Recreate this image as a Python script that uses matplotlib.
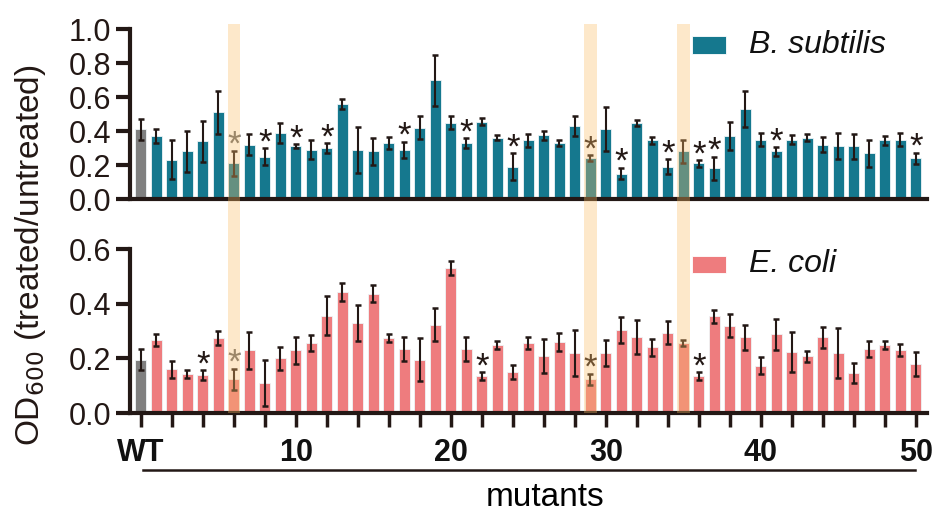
import numpy as np
import matplotlib.pyplot as plt
import matplotlib.transforms as mtransforms
from matplotlib.patches import Rectangle

plt.rcParams['font.family'] = ['Liberation Sans', 'DejaVu Sans']

# position 0 = WT, 1..50 = mutants
positions = np.arange(51)

bs_mean = [0.41, 0.37, 0.23, 0.28, 0.34, 0.51, 0.21, 0.32, 0.25, 0.39,
           0.31, 0.29, 0.30, 0.56, 0.29, 0.28, 0.33, 0.29, 0.42, 0.70,
           0.45, 0.33, 0.455, 0.36, 0.19, 0.345, 0.375, 0.33, 0.43, 0.24,
           0.41, 0.15, 0.45, 0.345, 0.19, 0.28, 0.21, 0.18, 0.37, 0.53,
           0.35, 0.28, 0.35, 0.36, 0.32, 0.31, 0.31, 0.27, 0.345, 0.35,
           0.24]
bs_err = [0.06, 0.04, 0.115, 0.12, 0.12, 0.125, 0.075, 0.06, 0.05, 0.06,
          0.012, 0.057, 0.03, 0.03, 0.135, 0.077, 0.033, 0.048, 0.067, 0.15,
          0.036, 0.027, 0.02, 0.014, 0.08, 0.04, 0.026, 0.02, 0.06, 0.018,
          0.13, 0.033, 0.018, 0.022, 0.044, 0.07, 0.02, 0.07, 0.083, 0.105,
          0.037, 0.026, 0.027, 0.02, 0.044, 0.077, 0.075, 0.08, 0.026, 0.04,
          0.033]
bs_stars = [6, 8, 10, 12, 17, 21, 24, 29, 31, 34, 36, 37, 41, 50]

ec_mean = [0.196, 0.267, 0.16, 0.143, 0.14, 0.275, 0.124, 0.23, 0.11, 0.20,
           0.23, 0.257, 0.356, 0.444, 0.33, 0.437, 0.274, 0.234, 0.196, 0.324,
           0.53, 0.234, 0.135, 0.25, 0.15, 0.257, 0.208, 0.26, 0.22, 0.124,
           0.22, 0.304, 0.28, 0.241, 0.294, 0.257, 0.135, 0.354, 0.32, 0.277,
           0.174, 0.288, 0.223, 0.208, 0.277, 0.22, 0.147, 0.234, 0.25, 0.23,
           0.179]
ec_err = [0.04, 0.022, 0.03, 0.016, 0.017, 0.027, 0.039, 0.067, 0.083, 0.042,
          0.049, 0.03, 0.072, 0.033, 0.067, 0.03, 0.015, 0.043, 0.077, 0.06,
          0.025, 0.043, 0.015, 0.015, 0.026, 0.021, 0.063, 0.032, 0.083, 0.02,
          0.048, 0.046, 0.062, 0.031, 0.043, 0.01, 0.015, 0.023, 0.043, 0.047,
          0.032, 0.056, 0.073, 0.02, 0.037, 0.092, 0.037, 0.03, 0.015, 0.022,
          0.043]
ec_stars = [4, 6, 22, 29, 36]

highlight = [6, 29, 35]
gray_star = [6]
xtick_pos = [0, 10, 20, 30, 40, 50]
xtick_labels = ['WT', '10', '20', '30', '40', '50']

teal = '#15788e'
pink = '#ee7c7e'
gray = '#808080'
band = '#fbbe68'
ink = '#231815'

fig = plt.figure(figsize=(9.45, 5.21), dpi=100)
ax1 = fig.add_axes([0.1376, 0.618, 0.843, 0.326])
ax2 = fig.add_axes([0.1376, 0.207, 0.843, 0.315])


def draw_panel(ax, means, errs, stars, color, ymax, label):
    colors = [gray] + [color] * (len(means) - 1)
    ax.bar(positions, means, width=0.7, color=colors, edgecolor='#eef4f6',
           linewidth=0.6, zorder=2)
    ax.errorbar(positions, means, yerr=errs, fmt='none', ecolor=ink,
                elinewidth=1.5, capsize=2.5, capthick=1.8, zorder=3)
    for s in stars:
        c = '#6a6a6a' if s in gray_star else ink
        ax.annotate('*', (s, means[s] + errs[s]), xytext=(0, -3),
                    textcoords='offset points', ha='center', va='baseline',
                    fontsize=25, color=c, zorder=4)
    ax.set_xlim(-0.7, 50.7)
    ax.set_ylim(0, ymax)
    for sp in ['top', 'right']:
        ax.spines[sp].set_visible(False)
    for sp in ['left', 'bottom']:
        ax.spines[sp].set_linewidth(3)
        ax.spines[sp].set_color(ink)
    ax.tick_params(axis='y', width=3, length=10, labelsize=22,
                   color=ink, labelcolor=ink)
    ax.set_yticks(np.round(np.arange(0, ymax + 0.01, 0.2), 1))
    ax.set_yticklabels([f'{v:.1f}' for v in np.arange(0, ymax + 0.01, 0.2)])
    ax.add_patch(Rectangle((0.706, 0.855), 0.042, 0.105,
                           transform=ax.transAxes, facecolor=color,
                           edgecolor='white', lw=0.6, clip_on=False))
    ax.text(0.777, 0.908, label, transform=ax.transAxes, fontsize=23,
            style='italic', va='center', ha='left', color='#111111')


draw_panel(ax1, bs_mean, bs_err, bs_stars, teal, 1.0, 'B. subtilis')
draw_panel(ax2, ec_mean, ec_err, ec_stars, pink, 0.6, 'E. coli')

ax1.set_xticks([])
ax2.set_xticks(np.arange(0, 51, 2))
ax2.set_xticklabels(['' for _ in range(26)])
ax2.tick_params(axis='x', width=2.5, length=10, color=ink)
for p, lab in zip(xtick_pos, xtick_labels):
    ax2.annotate(lab, (p, 0), xytext=(0, -18), textcoords='offset points',
                 ha='center', va='top', fontsize=22, fontweight='bold',
                 color='#111111')

# highlight bands spanning both panels
trans = mtransforms.blended_transform_factory(ax2.transData, fig.transFigure)
for h in highlight:
    fig.add_artist(Rectangle((h - 0.41, 0.207), 0.82, 0.747, transform=trans,
                             facecolor=band, alpha=0.35, edgecolor='none',
                             zorder=5))

# underline for mutants and axis labels
fig.add_artist(plt.Line2D([0.151, 0.968], [0.098, 0.098], color=ink,
                          lw=1.8))
fig.text(0.577, 0.045, 'mutants', ha='center', va='center', fontsize=24)
fig.text(0.032, 0.51, 'OD$_{600}$ (treated/untreated)', rotation=90,
         ha='center', va='center', fontsize=24, color=ink)

fig.savefig('out.png', dpi=100)
